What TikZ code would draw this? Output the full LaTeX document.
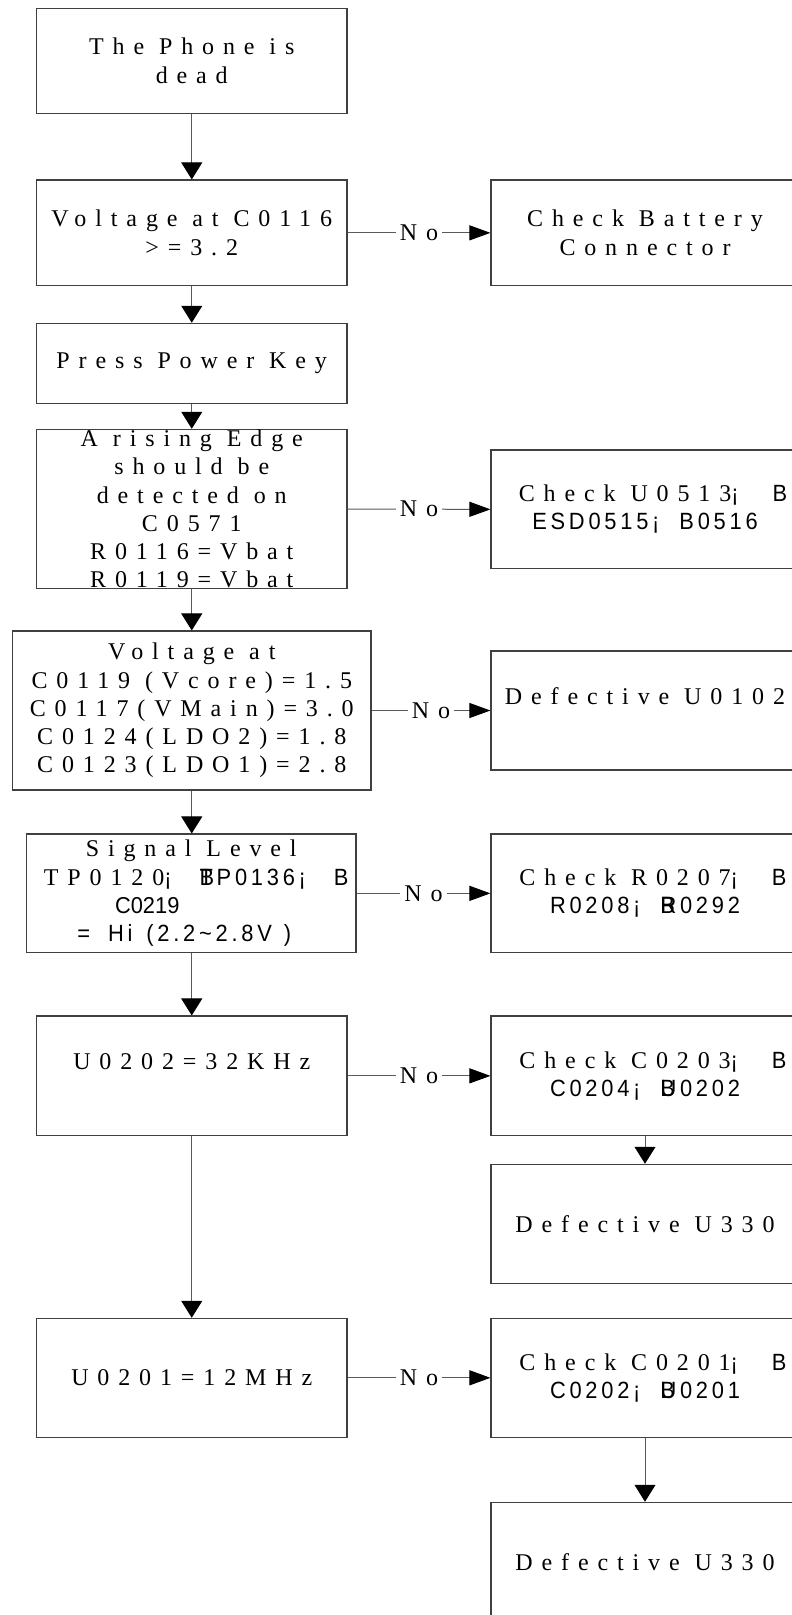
\documentclass[tikz,border=0pt]{standalone}
\usepackage{fontspec}
\setmainfont{Liberation Serif}[LetterSpace=37]
\newfontfamily\sfx{Liberation Sans}[LetterSpace=16,FakeStretch=0.93]
\newfontfamily\sfn{Liberation Sans}[LetterSpace=0,FakeStretch=0.95]
\usetikzlibrary{arrows.meta}
\newcommand\SF[1]{{\sfx\fontsize{23.5}{28.2}\selectfont #1}}
\newcommand\SN[1]{{\sfn\fontsize{23}{28.2}\selectfont #1}}
\newcommand\gp{\hspace{20pt}}
\newcommand\gq{\hspace{34pt}}
\newcommand\lead{\mbox{}\kern16pt}
\tikzset{
  bx/.style={draw=black!75, line width=1.1pt, inner sep=0pt, fill=none},
  txt/.style={align=center, inner sep=0pt, font=\fontsize{24}{28.2}\selectfont},
  vcon/.style={draw=black!65, line width=1pt, -{Triangle[length=17pt,width=21pt,color=black]}},
  hcon/.style={draw=black!65, line width=1pt, -{Triangle[length=21pt,width=15pt,color=black]}},
  nolab/.style={fill=white, inner xsep=4pt, inner ysep=1pt, font=\fontsize{24}{28.2}\selectfont}
}
\begin{document}
\begin{tikzpicture}[x=1pt,y=-1pt]
\clip (0,0) rectangle (792,1615);
\useasboundingbox (0,0) rectangle (792,1615);
\fill[white] (0,0) rectangle (792,1615);

% left column boxes
\node[bx, minimum width=310.5pt, minimum height=105pt]   (b1) at (191.75,60.8) {};
\node[bx, minimum width=310.5pt, minimum height=105.7pt] (b2) at (191.75,232.85) {};
\node[bx, minimum width=310.5pt, minimum height=80pt]    (b3) at (191.75,363.3) {};
\node[bx, minimum width=310.5pt, minimum height=159.4pt] (b4) at (191.75,509) {};
\node[bx, minimum width=358.4pt, minimum height=159pt]   (b5) at (191.8,710.5) {};
\node[bx, minimum width=329.5pt, minimum height=118.7pt] (b6) at (191.25,893.35) {};
\node[bx, minimum width=310.5pt, minimum height=119.7pt] (b7) at (191.75,1075.85) {};
\node[bx, minimum width=310.5pt, minimum height=119pt]   (b8) at (191.75,1377.8) {};

% right column boxes
\node[bx, minimum width=308pt, minimum height=105.7pt] (r1) at (645,232.85) {};
\node[bx, minimum width=308pt, minimum height=118.7pt] (r2) at (645,509.35) {};
\node[bx, minimum width=308pt, minimum height=119pt]   (r3) at (645,710.5) {};
\node[bx, minimum width=308pt, minimum height=118.7pt] (r4) at (645,893.35) {};
\node[bx, minimum width=308pt, minimum height=119.7pt] (r5) at (645,1075.85) {};
\node[bx, minimum width=308pt, minimum height=119pt]   (r6) at (645,1223.8) {};
\node[bx, minimum width=308pt, minimum height=119pt]   (r7) at (645,1377.8) {};
\node[bx, minimum width=308pt, minimum height=119pt]   (r8) at (645,1561.8) {};

% texts
\node[txt] (t1) at (b1) {The Phone is\\dead};
\node[txt] (t2) at (b2) {Voltage at C0116\\>=3.2};
\node[txt] (t3) at (b3) {Press Power Key};
\node[txt] (t4) at (b4) {A rising Edge\\should be\\detected on\\C0571\\R0116=Vbat\\R0119=Vbat};
\node[txt] (t5) at (b5) {Voltage at\\C0119 (Vcore)=1.5\\C0117(VMain)=3.0\\C0124(LDO2)=1.8\\C0123(LDO1)=2.8};
\node[txt] (t6) at (b6) {Signal Level\\\mbox{}\kern10pt TP0120\SF{¡\hspace{28pt}\rlap{B}TP0136¡\hspace{28pt}B}\\\SN{C0219}\kern88pt\mbox{}\\\SF{=\hspace{18pt}Hi\hspace{14pt}(2.2\textasciitilde 2.8V\hspace{12pt})}\kern14pt\mbox{}};
\node[txt] (t7) at (b7) {U0202=32KHz\\\mbox{}};
\node[txt] (t8) at (b8) {U0201=12MHz};

\node[txt] (s1) at (r1) {Check Battery\\Connector};
\node[txt] (s2) at (r2) {\lead Check U0513\SF{¡\gq B}\\\SF{ESD0515¡\gp B0516}};
\node[txt] (s3) at (r3) {Defective U0102\\\mbox{}};
\node[txt] (s4) at (r4) {\lead Check R0207\SF{¡\gq B}\\\SF{R0208¡\gp\rlap{B}R0292}};
\node[txt] (s5) at (r5) {\lead Check C0203\SF{¡\gq B}\\\SF{C0204¡\gp\rlap{B}U0202}};
\node[txt] (s6) at (r6) {Defective U330};
\node[txt] (s7) at (r7) {\lead Check C0201\SF{¡\gq B}\\\SF{C0202¡\gp\rlap{B}U0201}};
\node[txt] (s8) at (r8) {Defective U330};

% vertical connectors
\draw[vcon] (b1.south) -- (b1.south |- b2.north);
\draw[vcon] (b2.south) -- (b2.south |- b3.north);
\draw[vcon] (b3.south) -- (b3.south |- b4.north);
\draw[vcon] (b4.south) -- (b4.south |- b5.north);
\draw[vcon] (b4.south |- b5.south) -- (b4.south |- b6.north);
\draw[vcon] (b4.south |- b6.south) -- (b4.south |- b7.north);
\draw[vcon] (b7.south) -- (b7.south |- b8.north);
\draw[vcon] (r5.south) -- (r6.north);
\draw[vcon] (r7.south) -- (r8.north);

% No connectors
\draw[hcon] (b2.east) -- node[nolab] {No} (r1.west);
\draw[hcon] (b4.east) -- node[nolab] {No} (r2.west);
\draw[hcon] (b5.east) -- node[nolab] {No} (r3.west);
\draw[hcon] (b6.east) -- node[nolab] {No} (r4.west);
\draw[hcon] (b7.east) -- node[nolab] {No} (r5.west);
\draw[hcon] (b8.east) -- node[nolab] {No} (r7.west);
\end{tikzpicture}
\end{document}
